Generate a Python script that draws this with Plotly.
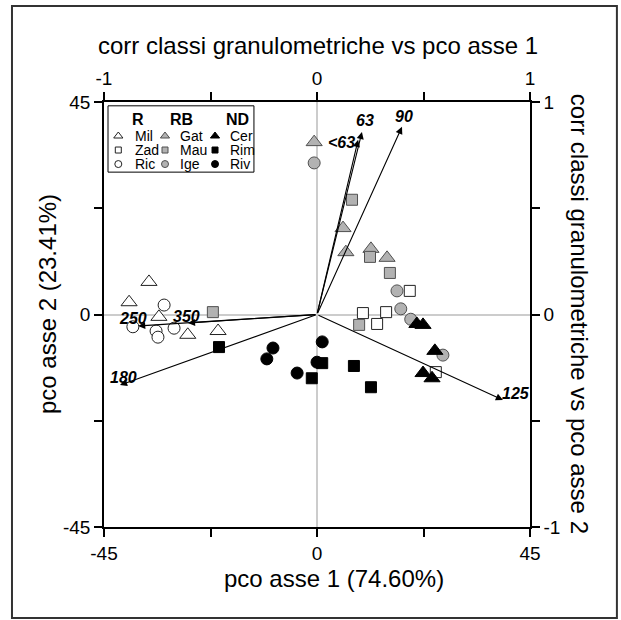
import plotly.graph_objects as go

# ---- data (pco scores) ----
mil_x = [-35.5, -39.7, -33.4, -27.3, -20.9]
mil_y = [6.9, 2.6, -0.5, -4.3, -3.5]
zad_x = [19.6, 9.7, 14.6, 12.7, 25.1]
zad_y = [5.0, 0.3, 0.5, -2.0, -12.2]
ric_x = [-32.3, -38.9, -34.0, -33.6, -30.2]
ric_y = [2.0, -2.6, -3.5, -4.8, -2.9]

gat_x = [-0.6, 5.5, 6.1, 11.4, 14.8]
gat_y = [36.5, 18.3, 13.2, 13.9, 12.0]
mau_x = [7.4, 11.2, 15.4, 8.9, -22.0]
mau_y = [24.3, 12.2, 8.8, -2.2, 0.5]
ige_x = [-0.6, 16.9, 17.7, 19.8, 26.6]
ige_y = [32.1, 5.0, 1.2, -1.0, -8.6]

cer_x = [21.1, 22.4, 24.9, 22.4, 24.3]
cer_y = [-2.0, -2.2, -7.7, -12.4, -13.5]
rim_x = [-20.7, 1.1, -1.1, 7.8, 11.4]
rim_y = [-6.9, -10.3, -13.5, -10.9, -15.4]
riv_x = [1.1, -9.3, -10.6, -4.2, 0.0]
riv_y = [-5.8, -7.1, -9.4, -12.4, -10.1]

# ---- correlation vectors (grain-size classes) ----
arrow_labels = ["<63", "63", "90", "125", "180", "250", "350"]
arrow_x = [0.193, 0.211, 0.399, 0.873, -0.925, -0.840, -0.606]
arrow_y = [0.822, 0.859, 0.883, -0.402, -0.332, -0.054, -0.040]
label_shift = [(-17, -3), (3, 11), (2, 10), (13, 6), (4, 8), (-5, 7), (-1, 7)]

# ---- tick labels ----
pco_ticks = [-45, -22.5, 0, 22.5, 45]
pco_text = ["-45", "", "0", "", "45"]
corr_ticks = [-1, -0.5, 0, 0.5, 1]
corr_text = ["-1", "", "0", "", "1"]

groups = ["R", "RB", "ND"]
sites = [["Mil", "Zad", "Ric"], ["Gat", "Mau", "Ige"], ["Cer", "Rim", "Riv"]]

FONT = "Liberation Sans, Arial, sans-serif"
WHITE, GRAY, BLACK = "white", "#b2b2b2", "black"
fills = [WHITE, GRAY, BLACK]
edges = ["#222222", "#505050", "black"]
symbols = ["triangle-up", "square", "circle"]
sizes = [14, 11, 12]

series = [
    [(mil_x, mil_y), (zad_x, zad_y), (ric_x, ric_y)],
    [(gat_x, gat_y), (mau_x, mau_y), (ige_x, ige_y)],
    [(cer_x, cer_y), (rim_x, rim_y), (riv_x, riv_y)],
]

fig = go.Figure()
for g in range(3):
    for s in range(3):
        xs, ys = series[g][s]
        fig.add_trace(go.Scatter(
            x=xs, y=ys, mode="markers", name=sites[g][s],
            marker=dict(symbol=symbols[s], size=sizes[s], color=fills[g],
                        line=dict(color=edges[g], width=1)),
            showlegend=False, xaxis="x", yaxis="y"))

# invisible trace to anchor correlation axes
fig.add_trace(go.Scatter(x=arrow_x, y=arrow_y, mode="markers",
                         marker=dict(opacity=0), hoverinfo="skip",
                         showlegend=False, xaxis="x2", yaxis="y2"))

annotations = []
for lab, ax_, ay_, (dx, dy) in zip(arrow_labels, arrow_x, arrow_y, label_shift):
    annotations.append(dict(
        x=ax_, y=ay_, xref="x2", yref="y2", ax=0, ay=0, axref="x2", ayref="y2",
        text="", showarrow=True, arrowhead=2, arrowsize=1.3, arrowwidth=1.1,
        arrowcolor="black", standoff=0))
    annotations.append(dict(
        x=ax_, y=ay_, xref="x2", yref="y2", text="<b><i>%s</i></b>" % lab.replace("<", "&lt;"),
        showarrow=False, xshift=dx, yshift=dy, xanchor="center", yanchor="middle",
        font=dict(family=FONT, size=16, color="black")))

# axis titles
annotations += [
    dict(x=0.502, y=1.132, text="corr classi granulometriche vs pco asse 1"),
    dict(x=0.54, y=-0.12, text="pco asse 1 (74.60%)"),
    dict(x=-0.131, y=0.525, textangle=-90, text="pco asse 2 (23.41%)"),
    dict(x=1.117, y=0.502, textangle=90, text="corr classi granulometriche vs pco asse 2"),
]
for a in annotations[-4:]:
    a.update(xref="paper", yref="paper", showarrow=False, xanchor="center",
             yanchor="middle", font=dict(family=FONT, size=24, color="black"))

# ---- hand-built legend (in plot-paper coordinates) ----
head_x = [0.080, 0.181, 0.314]
head_y = 0.958
mark_x = [0.0336, 0.1432, 0.2606]
lab_x = [0.0674, 0.1744, 0.2904]
row_y = [0.920, 0.887, 0.854]
for g in range(3):
    annotations.append(dict(x=head_x[g], y=head_y, xref="paper", yref="paper",
                            text="<b>%s</b>" % groups[g], showarrow=False,
                            xanchor="center", yanchor="middle",
                            font=dict(family=FONT, size=16, color="black")))
    for s in range(3):
        annotations.append(dict(x=lab_x[g], y=row_y[s], xref="paper", yref="paper",
                                text=sites[g][s], showarrow=False, xanchor="left",
                                yanchor="middle",
                                font=dict(family=FONT, size=14, color="black")))
        fig.add_trace(go.Scatter(
            x=[mark_x[g]], y=[row_y[s]], mode="markers",
            marker=dict(symbol=symbols[s], size=[8, 6, 7][s], color=fills[g],
                        line=dict(color=edges[g], width=1)),
            hoverinfo="skip", showlegend=False, xaxis="x3", yaxis="y3"))

shapes = [
    dict(type="rect", xref="paper", yref="paper", x0=0.0094, x1=0.352, y0=0.835, y1=0.991,
         line=dict(color="black", width=1), fillcolor="rgba(0,0,0,0)"),
    dict(type="rect", xref="paper", yref="paper", x0=-0.216, x1=1.204, y0=-0.214, y1=1.226,
         line=dict(color="#333333", width=2), fillcolor="rgba(0,0,0,0)"),
]

axis_common = dict(ticks="outside", ticklen=8, tickwidth=1.5, tickcolor="black",
                   showline=True, linecolor="black", linewidth=1.5, showgrid=False,
                   tickfont=dict(family=FONT, size=19, color="black"))

fig.update_layout(
    width=621, height=620,
    margin=dict(l=104, r=91, t=102, b=93),
    paper_bgcolor="white", plot_bgcolor="white",
    xaxis=dict(range=[-45, 45], tickvals=pco_ticks, ticktext=pco_text,
               zeroline=True, zerolinecolor="#cccccc", zerolinewidth=1.5, **axis_common),
    yaxis=dict(range=[-45, 45], tickvals=pco_ticks, ticktext=pco_text,
               zeroline=True, zerolinecolor="#cccccc", zerolinewidth=1.5, **axis_common),
    xaxis2=dict(range=[-1, 1], tickvals=corr_ticks, ticktext=corr_text, side="top",
                overlaying="x", anchor="y2", zeroline=False, **axis_common),
    yaxis2=dict(range=[-1, 1], tickvals=corr_ticks, ticktext=corr_text, side="right",
                overlaying="y", anchor="x2", zeroline=False, **axis_common),
    xaxis3=dict(range=[0, 1], overlaying="x", visible=False, anchor="y3"),
    yaxis3=dict(range=[0, 1], overlaying="y", visible=False, anchor="x3"),
    annotations=annotations, shapes=shapes, showlegend=False,
)

fig.write_html("out.html")
